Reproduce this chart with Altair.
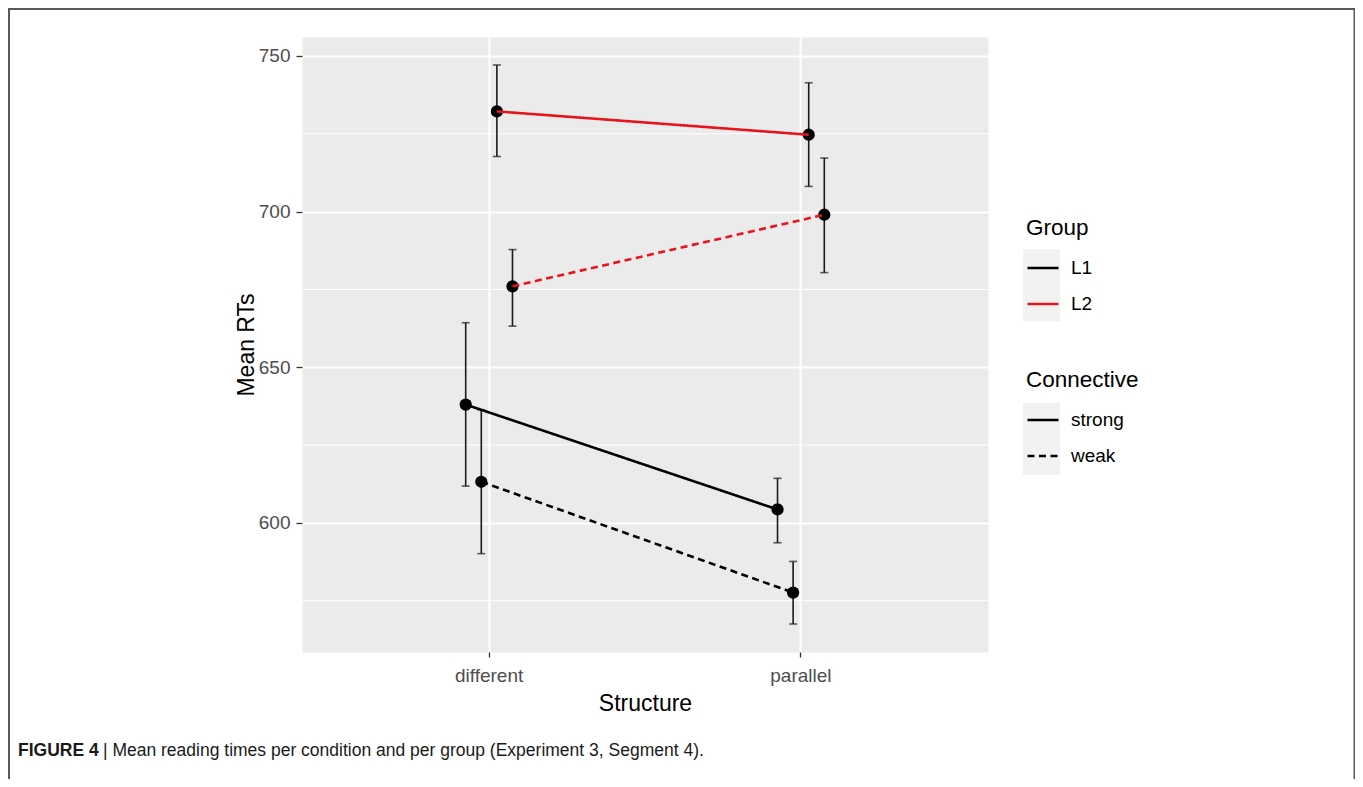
import altair as alt
import pandas as pd

# ---------------- data ----------------
structure_levels = ["different", "parallel"]
series_group = ["L1", "L1", "L2", "L2"]
series_connective = ["strong", "weak", "strong", "weak"]
mean_different = [638.0, 613.2, 732.2, 676.0]
mean_parallel = [604.3, 577.6, 724.7, 699.0]
low_different = [611.8, 590.1, 717.7, 663.2]
high_different = [664.3, 636.3, 747.1, 687.8]
low_parallel = [593.6, 567.5, 708.1, 680.4]
high_parallel = [614.3, 587.6, 741.4, 717.2]
major_breaks = [600, 650, 700, 750]
minor_breaks = [575, 625, 675, 725]
group_levels = ["L1", "L2"]
group_colors = ["#000000", "#E8141B"]
connective_levels = ["strong", "weak"]
x_title = "Structure"
y_title = "Mean RTs"
caption_bold = "FIGURE 4"
caption_rest = "| Mean reading times per condition and per group (Experiment 3, Segment 4)."

rows = []
for i in range(len(series_group)):
    g, c = series_group[i], series_connective[i]
    for s, m, lo, hi in [
        ("different", mean_different[i], low_different[i], high_different[i]),
        ("parallel", mean_parallel[i], low_parallel[i], high_parallel[i]),
    ]:
        rows.append(dict(structure=s, group=g, connective=c, cond=f"{g} {c}",
                         mean=m, lo=lo, hi=hi))
df = pd.DataFrame(rows)
cond_order = [f"{g} {c}" for g, c in zip(series_group, series_connective)]
minor_df = pd.DataFrame({"minor": minor_breaks})
dummy = pd.DataFrame({"k": [0]})

# ---------------- style ----------------
FONT = "Liberation Sans"
W, H = 686, 615

xscale = alt.Scale(type="band", domain=structure_levels, paddingInner=0.8, paddingOuter=0.5)
yscale = alt.Scale(domain=[558.5, 756.1], nice=False, zero=False)

xaxis = alt.Axis(grid=True, gridColor="white", gridWidth=2, bandPosition=0.5,
                 domain=False, ticks=True, tickColor="#333333", tickSize=5, tickWidth=1.3,
                 labelAngle=0, labelBaseline="alphabetic", labelPadding=24.7,
                 labelFont=FONT, labelFontSize=19, labelColor="#4D4D4D",
                 title=x_title, titleFont=FONT, titleFontSize=23, titleFontWeight="normal",
                 titleColor="black", titleBaseline="alphabetic", titleY=58, titleX=W / 2)
yaxis = alt.Axis(values=major_breaks, grid=True, gridColor="white", gridWidth=2,
                 domain=False, ticks=True, tickColor="#333333", tickSize=6, tickWidth=1.3,
                 labelPadding=6, labelFont=FONT, labelFontSize=19, labelColor="#4D4D4D",
                 title=y_title, titleFont=FONT, titleFontSize=23, titleFontWeight="normal",
                 titleColor="black", titleAngle=270, titleBaseline="alphabetic",
                 titleX=-49, titleY=H / 2)

xenc = alt.X("structure:N", scale=xscale, axis=xaxis, sort=structure_levels)
xoff = alt.XOffset("cond:N", scale=alt.Scale(domain=cond_order, paddingInner=0, paddingOuter=0))

def yenc(field):
    return alt.Y(field, type="quantitative", scale=yscale, axis=yaxis)

legend_common = dict(orient="none", symbolType="stroke", symbolSize=961,
                     symbolStrokeWidth=2.6, titleFont=FONT, titleFontSize=22.5,
                     titleFontWeight="normal", titleColor="black", titlePadding=11.5,
                     labelFont=FONT, labelFontSize=19, labelColor="black", labelOffset=11,
                     rowPadding=9, padding=0)

# ---------------- layers ----------------
minor_grid = alt.Chart(minor_df).mark_rule(color="white", strokeWidth=1).encode(
    y=yenc("minor"))

key_bg_group = alt.Chart(dummy).mark_rect(color="#F2F2F2").encode(
    x=alt.value(721), x2=alt.value(758), y=alt.value(212), y2=alt.value(284))
key_bg_conn = alt.Chart(dummy).mark_rect(color="#F2F2F2").encode(
    x=alt.value(721), x2=alt.value(758), y=alt.value(366), y2=alt.value(438))

err_rule = alt.Chart(df).mark_rule(color="#1A1A1A", strokeWidth=1.6).encode(
    x=xenc, xOffset=xoff, y=yenc("lo"), y2="hi:Q")
err_caps = alt.Chart(df).transform_fold(["lo", "hi"], as_=["bound", "val"]).mark_tick(
    color="#1A1A1A", thickness=1.6, size=8, orient="horizontal").encode(
    x=xenc, xOffset=xoff, y=yenc("val"))
points = alt.Chart(df).mark_circle(size=150, color="black", opacity=1).encode(
    x=xenc, xOffset=xoff, y=yenc("mean"))
lines = alt.Chart(df).mark_line(strokeWidth=2.6, color="black").encode(
    x=xenc, xOffset=xoff, y=yenc("mean"),
    color=alt.Color("group:N", scale=alt.Scale(domain=group_levels, range=group_colors),
                    legend=alt.Legend(title="Group", legendX=724, legendY=180,
                                      symbolDash=[1, 0], **legend_common)),
    strokeDash=alt.StrokeDash("connective:N",
                              scale=alt.Scale(domain=connective_levels, range=[[1, 0], [7, 4.5]]),
                              legend=alt.Legend(title="Connective", legendX=724, legendY=332,
                                                symbolStrokeColor="black", **legend_common)),
    detail="cond:N")

frame_color = "#595959"
frame_left = alt.Chart(dummy).mark_rule(color=frame_color, strokeWidth=2).encode(
    x=alt.value(-293), y=alt.value(-28), y2=alt.value(742))
frame_top = alt.Chart(dummy).mark_rule(color=frame_color, strokeWidth=2).encode(
    x=alt.value(-294), x2=alt.value(1053), y=alt.value(-28))
frame_right = alt.Chart(dummy).mark_rule(color=frame_color, strokeWidth=2).encode(
    x=alt.value(1052.5), y=alt.value(-28), y2=alt.value(742))

cap1 = alt.Chart(dummy).mark_text(align="left", baseline="alphabetic", font=FONT,
                                  fontSize=17.5, fontWeight="bold", color="#1A1A1A").encode(
    x=alt.value(-284), y=alt.value(719), text=alt.value(caption_bold))
cap2 = alt.Chart(dummy).mark_text(align="left", baseline="alphabetic", font=FONT,
                                  fontSize=17.5, color="#1A1A1A").encode(
    x=alt.value(-199), y=alt.value(719), text=alt.value(caption_rest))

chart = alt.layer(
    minor_grid, key_bg_group, key_bg_conn, err_rule, err_caps, points, lines,
    frame_left, frame_top, frame_right, cap1, cap2
).properties(
    width=W, height=H,
    autosize=alt.AutoSizeParams(type="none"),
    padding={"left": 294, "top": 29, "right": 367, "bottom": 127},
).configure_view(
    fill="#EBEBEB", stroke="transparent"
)

chart.save("out.html", embed_options={"renderer": "svg", "actions": False})
